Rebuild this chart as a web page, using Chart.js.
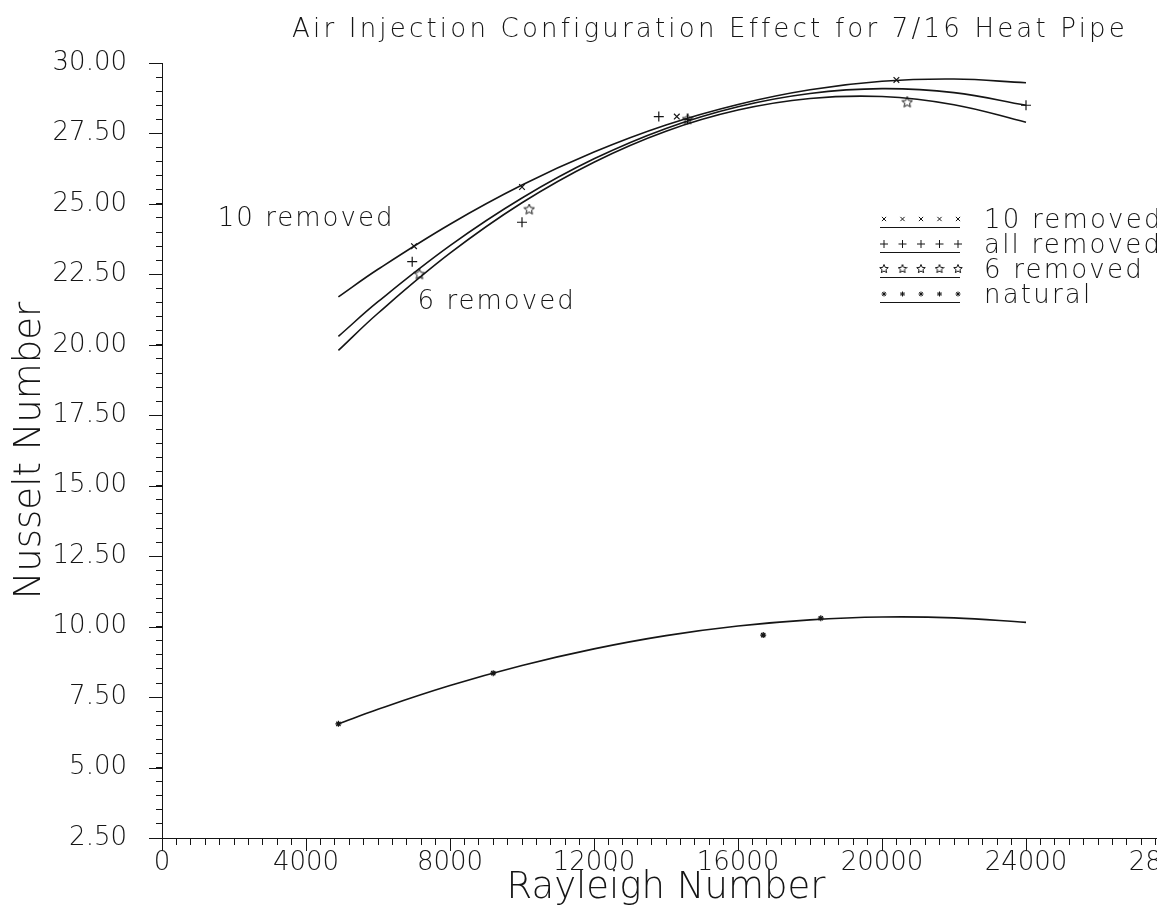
<!DOCTYPE html>
<html>
<head>
<meta charset="utf-8">
<script src="https://cdn.jsdelivr.net/npm/chart.js@4.4.1/dist/chart.umd.min.js"></script>
<style>
  html, body { margin: 0; padding: 0; background: #fff; overflow: hidden; }
  #wrap { width: 1157px; height: 924px; overflow: hidden; }
</style>
</head>
<body>
<div id="wrap"><canvas id="nuChart" width="1400" height="924"></canvas></div>
<script>
// fitted curves (Rayleigh number on x)
const curveX = [4900, 6000, 8000, 10000, 12000, 14000, 16000, 18000, 20000, 22000, 24000];
const tenCurve = [21.7, 22.68, 24.28, 25.67, 26.84, 27.80, 28.53, 29.05, 29.35, 29.43, 29.3];
const allCurve = [20.3, 21.53, 23.52, 25.21, 26.60, 27.68, 28.45, 28.92, 29.09, 28.95, 28.5];
const sixCurve = [19.8, 21.12, 23.25, 25.04, 26.48, 27.58, 28.33, 28.74, 28.81, 28.52, 27.9];
const natCurve = [6.55, 7.07, 7.91, 8.62, 9.21, 9.68, 10.02, 10.24, 10.34, 10.31, 10.15];

// measured points
const tenX = [7000, 10000, 14300, 20400];
const tenY = [23.5, 25.6, 28.1, 29.4];
const allX = [6950, 10000, 13800, 14600, 24000];
const allY = [22.95, 24.35, 28.1, 28.0, 28.5];
const sixX = [7150, 10200, 14600, 20700];
const sixY = [22.5, 24.8, 28.0, 28.6];
const natX = [4900, 9200, 16700, 18300];
const natY = [6.55, 8.35, 9.7, 10.3];

const seriesNames = ["10 removed", "all removed", "6 removed", "natural"];
const chartTitle = "Air Injection Configuration Effect for 7/16 Heat Pipe";

// tick labels
const xMajorTicks = [0, 4000, 8000, 12000, 16000, 20000, 24000, 28000];
const yMajorTicks = [2.5, 5, 7.5, 10, 12.5, 15, 17.5, 20, 22.5, 25, 27.5, 30];

// text written next to the curves
const curveNotes = [
    { text: "10 removed", x: 1550, y: 24.45 },
    { text: "6 removed", x: 7100, y: 21.5 }
];

const INK = "#151515";
const FONT = '"DejaVu Sans", sans-serif';

function pts(xs, ys) {
    return xs.map((x, i) => ({ x: x, y: ys[i] }));
}

// hollow five point star like the plotter symbol
function makeStar(size) {
    const c = document.createElement("canvas");
    c.width = size;
    c.height = size;
    const g = c.getContext("2d");
    g.strokeStyle = INK;
    g.lineWidth = 1;
    const cx = size / 2, cy = size / 2, R = size / 2 - 0.5, r = R * 0.45;
    g.beginPath();
    for (let i = 0; i < 10; i++) {
        const a = -Math.PI / 2 + i * Math.PI / 5;
        const rr = i % 2 ? r : R;
        const px = cx + rr * Math.cos(a), py = cy + rr * Math.sin(a);
        if (i === 0) g.moveTo(px, py); else g.lineTo(px, py);
    }
    g.closePath();
    g.stroke();
    return c;
}
const starImg = makeStar(12);
const starSmall = makeStar(10);

function curveSet(ys) {
    return {
        data: pts(curveX, ys),
        showLine: true,
        borderColor: INK,
        borderWidth: 1.6,
        pointRadius: 0,
        tension: 0.4,
        fill: false
    };
}

function markSet(name, xs, ys, style, radius, row, legendStyle, legendRadius) {
    return {
        label: name,
        data: pts(xs, ys),
        showLine: false,
        pointStyle: style,
        pointRadius: radius,
        pointBorderColor: INK,
        pointBackgroundColor: INK,
        pointBorderWidth: 1.2,
        legendRow: row,
        legendStyle: legendStyle || style,
        legendRadius: legendRadius || radius
    };
}

// plotter style legend: five symbols over an underline, then the name
const plotLegend = {
    id: "plotLegend",
    afterDatasetsDraw(chart) {
        const ctx = chart.ctx;
        ctx.save();
        chart.data.datasets.forEach(ds => {
            if (ds.legendRow === undefined) return;
            const rowY = 219 + ds.legendRow * 25;
            ctx.strokeStyle = INK;
            ctx.fillStyle = INK;
            ctx.lineWidth = 1;
            for (let k = 0; k < 5; k++) {
                Chart.helpers.drawPoint(ctx, {
                    pointStyle: ds.legendStyle,
                    radius: ds.legendRadius,
                    borderWidth: 1,
                    rotation: 0
                }, 884 + k * 18.5, rowY);
            }
            ctx.beginPath();
            ctx.moveTo(880, rowY + 8.5);
            ctx.lineTo(960, rowY + 8.5);
            ctx.stroke();
            ctx.font = "200 26px " + FONT;
            ctx.letterSpacing = "2.2px";
            ctx.textBaseline = "middle";
            ctx.textAlign = "left";
            ctx.fillText(ds.label, 984, rowY + 2);
        });
        ctx.restore();
    }
};

// title, curve names and longer ticks at the labelled values
const extras = {
    id: "extras",
    afterDraw(chart) {
        const ctx = chart.ctx;
        const xs = chart.scales.x, ys = chart.scales.y;
        ctx.save();
        ctx.strokeStyle = INK;
        ctx.lineWidth = 1;
        ctx.beginPath();
        xMajorTicks.forEach(v => {
            const p = Math.round(xs.getPixelForValue(v)) + 0.5;
            ctx.moveTo(p, ys.bottom);
            ctx.lineTo(p, ys.bottom + 13);
        });
        yMajorTicks.forEach(v => {
            const p = Math.round(ys.getPixelForValue(v)) + 0.5;
            ctx.moveTo(xs.left - 13, p);
            ctx.lineTo(xs.left, p);
        });
        ctx.stroke();
        ctx.fillStyle = INK;
        ctx.textBaseline = "middle";
        ctx.font = "200 26px " + FONT;
        ctx.letterSpacing = "2px";
        ctx.textAlign = "left";
        curveNotes.forEach(n => {
            ctx.fillText(n.text, xs.getPixelForValue(n.x), ys.getPixelForValue(n.y));
        });
        ctx.font = "200 26px " + FONT;
        ctx.letterSpacing = "3.2px";
        ctx.textAlign = "center";
        ctx.fillText(chartTitle, chart.width / 2 + 10, 30);
        ctx.restore();
    }
};

function isMajor(list, v) {
    return list.some(m => Math.abs(m - v) < 1e-6);
}

function renderChart() {
    const ctx = document.getElementById("nuChart").getContext("2d");

    new Chart(ctx, {
        type: "scatter",
        data: {
            datasets: [
                curveSet(tenCurve),
                curveSet(allCurve),
                curveSet(sixCurve),
                curveSet(natCurve),
                markSet(seriesNames[0], tenX, tenY, "crossRot", 4, 0, "crossRot", 3),
                markSet(seriesNames[1], allX, allY, "cross", 5, 1, "cross", 4),
                markSet(seriesNames[2], sixX, sixY, starImg, 6, 2, starSmall, 5),
                markSet(seriesNames[3], natX, natY, "star", 3, 3, "star", 2.5)
            ]
        },
        options: {
            responsive: false,
            animation: false,
            layout: { padding: { left: 0, right: 230, top: 63, bottom: 0 } },
            plugins: {
                legend: { display: false },
                tooltip: { enabled: false },
                title: { display: false }
            },
            scales: {
                x: {
                    type: "linear",
                    min: 0,
                    max: 28000,
                    afterFit(s) { s.height = 86; },
                    grid: { drawOnChartArea: false, tickLength: 7, color: INK, tickColor: INK },
                    border: { color: INK, width: 1 },
                    ticks: {
                        stepSize: 400,
                        autoSkip: false,
                        maxRotation: 0,
                        minRotation: 0,
                        padding: 3,
                        color: INK,
                        font: { family: FONT, size: 26, weight: 200 },
                        callback: v => isMajor(xMajorTicks, v) ? String(v) : ""
                    },
                    title: {
                        display: true,
                        text: "Rayleigh Number",
                        color: INK,
                        font: { family: FONT, size: 37, weight: 200 },
                        padding: { top: 0, bottom: 13 }
                    }
                },
                y: {
                    type: "linear",
                    min: 2.5,
                    max: 30,
                    afterFit(s) { s.width = 162; },
                    grid: { drawOnChartArea: false, tickLength: 6, color: INK, tickColor: INK },
                    border: { color: INK, width: 1 },
                    ticks: {
                        stepSize: 0.5,
                        autoSkip: false,
                        padding: 29,
                        color: INK,
                        font: { family: FONT, size: 26, weight: 200 },
                        callback: v => isMajor(yMajorTicks, v) ? v.toFixed(2) : ""
                    },
                    title: {
                        display: true,
                        text: "Nusselt Number",
                        color: INK,
                        font: { family: FONT, size: 37, weight: 200 },
                        padding: { top: 8, bottom: 0 }
                    }
                }
            }
        },
        plugins: [plotLegend, extras]
    });
}

document.addEventListener("DOMContentLoaded", renderChart);
</script>
</body>
</html>
